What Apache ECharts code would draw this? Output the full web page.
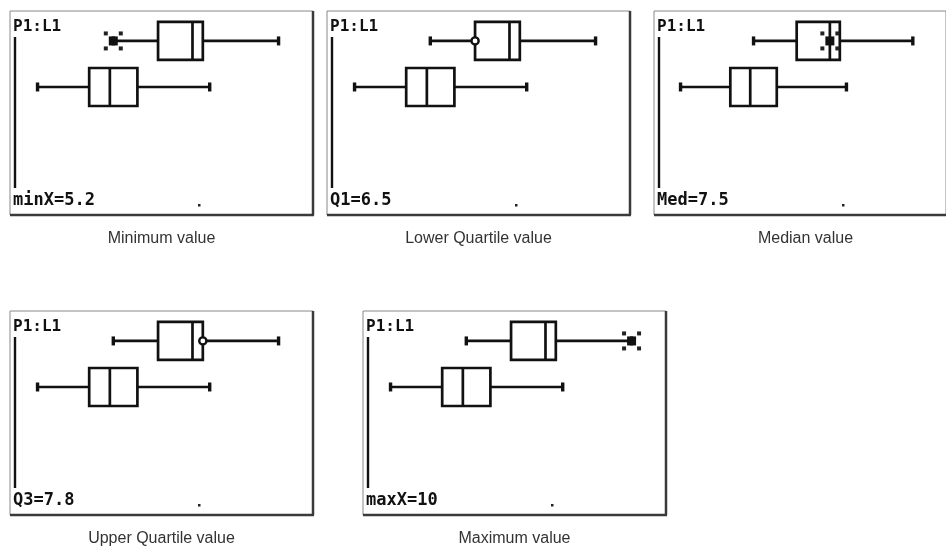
<!DOCTYPE html>
<html>
<head>
<meta charset="utf-8">
<script src="https://cdn.jsdelivr.net/npm/echarts@6/dist/echarts.min.js"></script>
<style>
  html, body { margin: 0; padding: 0; background: #fff; }
  #main { width: 946px; height: 560px; }
</style>
</head>
<body>
<div id="main"></div>
<script>
// five-number summaries (min, Q1, med, Q3, max)
var list1 = [5.2, 6.5, 7.5, 7.8, 10];
var list2 = [3, 4.5, 5.1, 5.9, 8];
// which statistic the trace cursor sits on in each screen
var traceNames = ['minX', 'Q1', 'Med', 'Q3', 'maxX'];
var traceKinds = ['cross', 'circle', 'cross', 'circle', 'cross'];
var captions = ['Minimum value', 'Lower Quartile value', 'Median value', 'Upper Quartile value', 'Maximum value'];
var windowX = [2.2, 11];

var chart = echarts.init(document.getElementById('main'));

var W = 303, H = 204;
var lefts = [10, 327, 654, 10, 363];
var tops = [11, 11, 11, 311, 311];
var ink = '#111';

function renderBox(params, api) {
  var y = api.value(0);
  var p = [];
  for (var d = 1; d <= 5; d++) p.push(api.coord([api.value(d), y]));
  var cy = p[0][1], h = 19, cap = 4.5;
  var st = { stroke: ink, lineWidth: 2.7 };
  return {
    type: 'group',
    children: [
      { type: 'line', shape: { x1: p[0][0], y1: cy, x2: p[1][0], y2: cy }, style: st },
      { type: 'line', shape: { x1: p[3][0], y1: cy, x2: p[4][0], y2: cy }, style: st },
      { type: 'rect', shape: { x: p[0][0] - 1.7, y: cy - cap, width: 3.4, height: cap * 2 }, style: { fill: ink } },
      { type: 'rect', shape: { x: p[4][0] - 1.7, y: cy - cap, width: 3.4, height: cap * 2 }, style: { fill: ink } },
      { type: 'rect', shape: { x: p[1][0], y: cy - h, width: p[3][0] - p[1][0], height: h * 2 },
        style: { fill: '#fff', stroke: ink, lineWidth: 2.7 } },
      { type: 'line', shape: { x1: p[2][0], y1: cy - h, x2: p[2][0], y2: cy + h }, style: st }
    ]
  };
}

function makeTrace(kind) {
  return function (params, api) {
    var c = api.coord([api.value(1), api.value(0)]);
    if (kind === 'circle') {
      return { type: 'circle', shape: { cx: c[0], cy: c[1], r: 3.6 },
        style: { fill: '#fff', stroke: ink, lineWidth: 2.4 } };
    }
    var kids = [{ type: 'rect', shape: { x: c[0] - 4.5, y: c[1] - 4.5, width: 9, height: 9 }, style: { fill: ink } }];
    [[-7.5, -7.5], [7.5, -7.5], [-7.5, 7.5], [7.5, 7.5]].forEach(function (o) {
      kids.push({ type: 'rect', shape: { x: c[0] + o[0] - 2, y: c[1] + o[1] - 2, width: 4, height: 4 },
        style: { fill: '#222' } });
    });
    return { type: 'group', children: kids };
  };
}

var grids = [], xAxes = [], yAxes = [], series = [], graphics = [];

for (var i = 0; i < 5; i++) {
  var L = lefts[i], T = tops[i];
  grids.push({ left: L, top: T, width: W, height: H, show: true,
    borderColor: '#888', borderWidth: 1, backgroundColor: '#fff' });
  xAxes.push({ gridIndex: i, type: 'value', min: windowX[0], max: windowX[1], show: false });
  yAxes.push({ gridIndex: i, type: 'value', min: -0.65, max: 3.78, inverse: true, show: false });

  series.push({
    type: 'custom', xAxisIndex: i, yAxisIndex: i,
    renderItem: renderBox,
    encode: { x: [1, 2, 3, 4, 5], y: 0 },
    data: [[0].concat(list1), [1].concat(list2)],
    z: 2
  });
  series.push({
    type: 'custom', xAxisIndex: i, yAxisIndex: i,
    renderItem: makeTrace(traceKinds[i]),
    encode: { x: 1, y: 0 },
    data: [[0, list1[i]]],
    z: 3
  });

  // heavier bottom / right edge of the screen frame
  graphics.push({ type: 'line', shape: { x1: L, y1: T + H, x2: L + W + 1, y2: T + H },
    style: { stroke: '#3a3a3a', lineWidth: 2.5 }, z: 10 });
  graphics.push({ type: 'line', shape: { x1: L + W, y1: T, x2: L + W, y2: T + H },
    style: { stroke: '#3a3a3a', lineWidth: 2.5 }, z: 10 });
  // plot cursor column on the left
  graphics.push({ type: 'line', shape: { x1: L + 5, y1: T + 26, x2: L + 5, y2: T + 177 },
    style: { stroke: ink, lineWidth: 2.4 }, z: 10 });
  graphics.push({ type: 'text', x: L + 3, y: T + 8,
    style: { text: 'P1:L1', font: 'bold 16px "DejaVu Sans Mono"', fill: ink }, z: 10 });
  graphics.push({ type: 'text', x: L + 3, y: T + 181,
    style: { text: traceNames[i] + '=' + list1[i], font: 'bold 17px "DejaVu Sans Mono"', fill: ink }, z: 10 });
  graphics.push({ type: 'rect', shape: { x: L + 188, y: T + 193, width: 2.5, height: 2.5 },
    style: { fill: '#222' }, z: 10 });
  graphics.push({ type: 'text', x: L + W / 2, y: T + H + 16,
    style: { text: captions[i], font: '16px "Liberation Sans"', fill: '#333', align: 'center' }, z: 10 });
}

chart.setOption({
  backgroundColor: '#fff',
  animation: false,
  grid: grids,
  xAxis: xAxes,
  yAxis: yAxes,
  series: series,
  graphic: graphics
});
</script>
</body>
</html>
